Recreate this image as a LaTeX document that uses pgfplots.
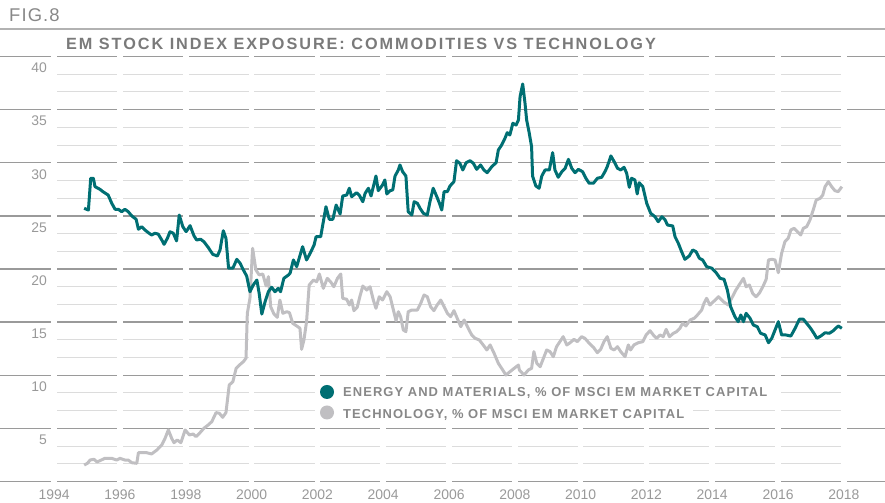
\documentclass[border=0pt]{standalone}
\usepackage{pgfplots}
\pgfplotsset{compat=1.18}
\usepackage{fontspec}
\setmainfont{Liberation Sans}
\newfontfamily\figfont[LetterSpace=6]{Liberation Sans}
\newfontfamily\titlefont[LetterSpace=12]{Liberation Sans}
\newfontfamily\legfont[LetterSpace=8.2]{Liberation Sans}
\definecolor{teal}{HTML}{006F73}
\definecolor{techgray}{HTML}{C0BFC2}
\definecolor{txtgray}{HTML}{888888}
\definecolor{ticgray}{HTML}{999999}
\definecolor{majgrid}{HTML}{9A9A9A}
\definecolor{mingrid}{HTML}{DCDCDC}

\pgfplotstableread{
year val
1994.91 25.71
1995.04 25.55
1995.11 28.54
1995.19 28.54
1995.24 27.75
1995.39 27.50
1995.48 27.28
1995.64 26.96
1995.75 26.18
1995.85 25.62
1995.95 25.62
1996.05 25.39
1996.15 25.62
1996.25 25.39
1996.36 24.99
1996.49 24.68
1996.56 23.74
1996.66 23.98
1996.76 23.67
1996.86 23.42
1996.96 23.20
1997.06 23.36
1997.16 23.29
1997.27 22.73
1997.34 22.32
1997.44 22.89
1997.52 23.51
1997.62 23.36
1997.72 22.64
1997.80 25.08
1997.91 23.98
1998.01 23.51
1998.13 24.08
1998.25 23.11
1998.33 22.73
1998.45 22.80
1998.55 22.57
1998.68 22.04
1998.82 21.38
1998.96 21.22
1999.04 21.79
1999.14 23.60
1999.22 22.89
1999.30 20.07
1999.43 20.07
1999.55 20.91
1999.65 20.54
1999.75 19.91
1999.85 19.34
1999.95 17.86
2000.05 18.49
2000.16 18.96
2000.23 17.71
2000.31 15.76
2000.41 16.92
2000.51 17.86
2000.61 18.28
2000.71 17.86
2000.81 18.18
2000.88 17.86
2000.98 19.12
2001.12 19.44
2001.17 19.60
2001.27 20.85
2001.37 20.22
2001.55 22.10
2001.67 20.85
2001.78 21.48
2001.90 22.26
2001.96 23.04
2002.10 23.04
2002.26 25.86
2002.36 24.68
2002.47 24.68
2002.57 26.02
2002.69 25.18
2002.77 26.87
2002.89 26.96
2002.97 27.60
2003.04 26.80
2003.19 27.18
2003.27 26.96
2003.38 26.33
2003.45 27.12
2003.55 27.60
2003.63 26.87
2003.70 27.75
2003.78 28.75
2003.85 27.37
2003.98 27.91
2004.05 28.38
2004.11 27.06
2004.21 27.37
2004.29 27.44
2004.36 28.75
2004.46 29.32
2004.51 29.79
2004.59 29.16
2004.69 28.75
2004.76 25.39
2004.87 25.08
2004.94 26.33
2005.04 26.18
2005.12 25.71
2005.22 25.24
2005.34 25.08
2005.42 26.33
2005.52 27.60
2005.63 26.80
2005.71 26.18
2005.78 25.55
2005.85 27.28
2005.95 27.28
2006.03 27.81
2006.15 28.22
2006.23 30.19
2006.33 29.95
2006.42 29.32
2006.52 30.00
2006.64 30.19
2006.74 29.95
2006.84 29.38
2006.96 29.79
2007.06 29.32
2007.16 29.06
2007.30 29.63
2007.43 30.00
2007.50 31.20
2007.60 31.67
2007.70 32.30
2007.77 32.83
2007.85 32.61
2007.94 33.71
2008.04 33.55
2008.11 34.02
2008.16 36.22
2008.24 37.41
2008.31 35.60
2008.36 34.02
2008.44 32.77
2008.51 31.51
2008.54 28.75
2008.64 27.81
2008.74 27.60
2008.82 28.75
2008.92 29.32
2009.05 29.32
2009.15 30.95
2009.22 29.32
2009.32 28.63
2009.43 29.16
2009.53 29.48
2009.63 30.32
2009.73 29.48
2009.83 29.06
2009.93 29.38
2010.06 29.16
2010.16 28.54
2010.26 28.07
2010.39 28.07
2010.51 28.54
2010.64 28.63
2010.74 29.16
2010.81 29.63
2010.92 30.64
2011.02 30.10
2011.12 29.48
2011.22 29.32
2011.32 29.57
2011.40 29.01
2011.48 27.69
2011.55 28.54
2011.65 28.38
2011.72 27.06
2011.78 28.12
2011.89 27.75
2012.01 26.18
2012.13 25.24
2012.26 24.92
2012.36 24.45
2012.47 24.92
2012.57 24.61
2012.64 24.14
2012.80 24.05
2012.87 23.04
2012.97 22.42
2013.07 21.63
2013.17 20.91
2013.30 21.22
2013.41 21.79
2013.51 21.63
2013.61 21.01
2013.71 20.85
2013.83 20.22
2013.99 20.07
2014.12 19.65
2014.24 19.12
2014.36 19.03
2014.46 18.02
2014.56 16.45
2014.69 15.51
2014.79 15.04
2014.87 15.67
2014.95 15.04
2015.03 15.83
2015.15 15.36
2015.25 14.73
2015.37 14.57
2015.47 13.95
2015.61 13.79
2015.71 13.06
2015.81 13.48
2015.91 14.26
2016.01 15.04
2016.11 13.79
2016.24 13.79
2016.39 13.69
2016.52 14.42
2016.65 15.27
2016.77 15.27
2016.87 14.89
2016.99 14.42
2017.09 13.95
2017.18 13.48
2017.30 13.69
2017.43 14.00
2017.56 13.95
2017.68 14.19
2017.83 14.64
2017.94 14.42
}\energy

\pgfplotstableread{
year val
1994.91 1.55
1995.01 1.71
1995.09 2.02
1995.21 2.09
1995.30 1.84
1995.39 1.96
1995.54 2.18
1995.75 2.18
1995.90 2.02
1996.00 2.18
1996.15 2.02
1996.25 2.02
1996.36 1.77
1996.51 1.71
1996.56 2.71
1996.81 2.71
1996.96 2.59
1997.12 2.96
1997.27 3.44
1997.37 4.07
1997.47 4.85
1997.57 4.07
1997.64 3.65
1997.74 3.91
1997.85 3.65
1997.98 4.85
1998.11 4.38
1998.23 4.47
1998.31 4.22
1998.43 4.59
1998.55 5.01
1998.68 5.32
1998.79 5.63
1998.92 6.48
1999.02 6.42
1999.12 6.04
1999.22 6.48
1999.32 9.08
1999.43 9.39
1999.53 10.65
1999.63 10.96
1999.75 11.28
1999.83 11.60
1999.87 15.83
1999.95 17.24
2000.03 21.95
2000.13 19.91
2000.23 19.44
2000.34 19.53
2000.44 18.40
2000.51 19.28
2000.58 16.45
2000.68 15.76
2000.78 15.45
2000.86 17.08
2000.95 15.83
2001.07 15.98
2001.15 15.89
2001.25 14.89
2001.37 14.64
2001.47 14.42
2001.52 12.44
2001.59 13.32
2001.67 15.04
2001.75 18.49
2001.88 18.96
2001.98 18.80
2002.06 19.53
2002.18 18.18
2002.30 19.12
2002.40 18.80
2002.50 18.33
2002.61 19.12
2002.71 19.53
2002.77 17.24
2002.89 17.15
2002.97 16.61
2003.04 17.08
2003.11 16.08
2003.21 16.40
2003.29 17.39
2003.38 18.40
2003.50 18.02
2003.60 18.33
2003.70 17.08
2003.78 16.30
2003.88 17.39
2003.98 17.08
2004.11 17.86
2004.21 17.39
2004.31 16.14
2004.39 15.13
2004.46 15.98
2004.53 15.51
2004.61 14.26
2004.69 14.10
2004.76 15.98
2004.87 16.14
2005.04 16.14
2005.14 16.77
2005.24 17.55
2005.34 17.39
2005.44 16.45
2005.54 16.08
2005.64 16.61
2005.75 17.08
2005.85 16.45
2005.95 15.83
2006.05 15.51
2006.15 16.08
2006.25 15.36
2006.36 14.57
2006.46 15.20
2006.56 14.57
2006.69 13.79
2006.79 13.48
2006.92 13.32
2007.04 12.85
2007.15 12.38
2007.25 12.85
2007.37 12.07
2007.50 11.12
2007.60 10.65
2007.73 10.02
2007.85 10.33
2007.98 10.65
2008.11 10.96
2008.14 10.49
2008.28 10.02
2008.41 10.49
2008.51 10.65
2008.58 12.22
2008.67 11.12
2008.77 10.80
2008.87 11.60
2008.97 12.38
2009.07 12.22
2009.17 11.75
2009.27 12.69
2009.37 13.16
2009.47 13.63
2009.58 12.85
2009.68 13.06
2009.80 13.38
2009.90 13.16
2010.03 13.63
2010.13 13.48
2010.26 13.01
2010.39 12.63
2010.51 12.12
2010.61 12.44
2010.71 13.16
2010.81 13.63
2010.92 12.54
2011.02 12.38
2011.12 12.69
2011.22 12.22
2011.35 11.75
2011.45 12.85
2011.52 12.38
2011.62 12.85
2011.75 13.06
2011.89 13.16
2011.99 13.79
2012.11 14.19
2012.21 13.79
2012.31 13.48
2012.41 13.79
2012.51 13.63
2012.60 14.32
2012.70 13.63
2012.82 13.95
2012.92 14.10
2013.02 14.42
2013.10 14.89
2013.20 14.64
2013.33 15.20
2013.45 15.36
2013.55 15.67
2013.68 16.14
2013.75 16.77
2013.83 17.24
2013.93 16.61
2014.09 17.08
2014.19 17.39
2014.34 16.92
2014.49 16.61
2014.59 17.24
2014.72 18.02
2014.85 18.65
2014.95 19.12
2015.03 18.33
2015.13 18.49
2015.23 17.71
2015.33 17.39
2015.43 17.71
2015.55 18.40
2015.64 19.03
2015.71 20.85
2015.81 20.91
2015.91 20.85
2016.01 19.65
2016.11 21.48
2016.21 22.57
2016.31 22.89
2016.39 23.67
2016.49 23.83
2016.59 23.51
2016.69 23.20
2016.77 23.83
2016.87 23.98
2016.97 24.61
2017.07 25.55
2017.16 26.49
2017.28 26.65
2017.36 26.96
2017.43 27.75
2017.53 28.22
2017.63 27.75
2017.73 27.37
2017.83 27.28
2017.94 27.75
}\tech

\begin{document}
\begin{tikzpicture}
\begin{scope}[x=1bp,y=1bp]
\path[use as bounding box] (0,0) rectangle (885,503);
% header
\node[anchor=base west, inner sep=0, text=txtgray, font={\figfont\fontsize{18.5}{20}\selectfont}] at (9,481.3) {FIG.8};
\draw[line width=1.4bp, color=black!30] (0,474) -- (885,474);
\node[anchor=base west, inner sep=0, text=black!52, font={\titlefont\bfseries\fontsize{16.3}{18}\selectfont}] at (66,453) {EM STOCK INDEX EXPOSURE: COMMODITIES VS TECHNOLOGY};
% grid
\foreach \v in {0,5,...,40} {\draw[line width=1.3bp, color=majgrid] (0,{21.5+10.625*\v}) -- (885,{21.5+10.625*\v});}
\foreach \k in {0,...,7} {\foreach \j in {1,2} {\draw[line width=1bp, color=mingrid] (54.2,{21.5+10.625*(5*\k+5*\j/3)}) -- (843.8,{21.5+10.625*(5*\k+5*\j/3)});}}
\foreach \i in {0,...,12} {\fill[white] ({54.2+65.8*\i-2.8},15) rectangle ({54.2+65.8*\i+2.8},452);}
% legend background
\fill[white] (317,102) rectangle (777,119);
\fill[white] (317,82) rectangle (693,100);
\end{scope}
\begin{axis}[
  at={(54.2bp,21.5bp)}, anchor=south west,
  scale only axis, width=789.6bp, height=425bp,
  xmin=1994, xmax=2018, ymin=0, ymax=40,
  axis line style={draw=none}, tick style={draw=none},
  xtick={1994,1996,...,2018}, ytick={5,10,...,40},
  /pgf/number format/assume math mode=true,
  xticklabel style={/pgf/number format/1000 sep=, anchor=base, yshift=-18.5bp, inner sep=0pt, text=ticgray, font=\fontsize{14}{16}\selectfont},
  yticklabel style={anchor=east, xshift=-7bp, yshift=-11.5bp, inner sep=0pt, text=ticgray, font=\fontsize{14}{16}\selectfont},
  clip=false,
]
\addplot[color=techgray, line width=3bp, line join=round, no markers] table[x=year,y=val] {\tech};
\addplot[color=teal, line width=3bp, line join=round, no markers] table[x=year,y=val] {\energy};
\end{axis}
\begin{scope}[x=1bp,y=1bp]
% legend
\fill[teal] (327,111) circle (7);
\fill[techgray] (327,90.5) circle (7);
\node[anchor=base west, inner sep=0, text=txtgray, font={\legfont\bfseries\fontsize{13}{15}\selectfont}] at (343,106.3) {ENERGY AND MATERIALS, \% OF MSCI EM MARKET CAPITAL};
\node[anchor=base west, inner sep=0, text=txtgray, font={\legfont\bfseries\fontsize{13}{15}\selectfont}] at (343,84.7) {TECHNOLOGY, \% OF MSCI EM MARKET CAPITAL};
\end{scope}
\end{tikzpicture}
\end{document}
